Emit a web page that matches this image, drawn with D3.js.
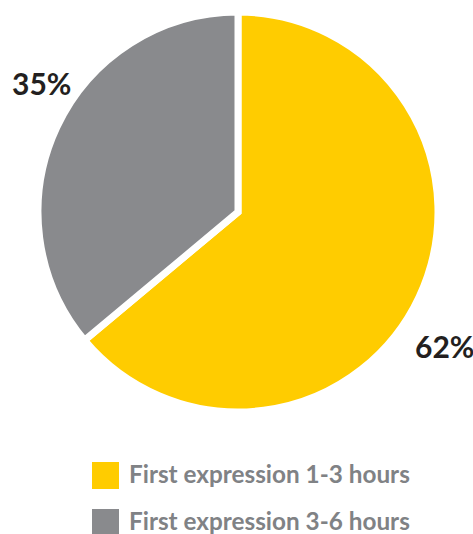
<!DOCTYPE html>
<html><head><meta charset="utf-8">
<script src="https://cdn.jsdelivr.net/npm/d3@7"></script>
<style>body{margin:0;background:#fff}svg{display:block}</style>
</head><body>
<svg id="c" width="473" height="534"></svg>
<script>
const categories = ["First expression 1-3 hours", "First expression 3-6 hours"];
const values = [62, 35];
const labels = ["62%", "35%"];
const colors = ["#FFCC00", "#898A8D"];

const svg = d3.select("#c");
const cx = 238, cy = 212, R = 200;
const pie = d3.pie().sort(null).value(d => d)(values);
const arc = d3.arc().innerRadius(0).outerRadius(R);
const g = svg.append("g").attr("transform", `translate(${cx},${cy})`);
g.selectAll("path").data(pie).join("path")
  .attr("d", arc)
  .attr("fill", (d, i) => colors[i])
  .attr("stroke", "#fff").attr("stroke-width", 7).attr("stroke-linejoin", "miter");

// percentage labels
const labelPos = [[415, 358], [12, 95]];
svg.selectAll("text.pct").data(labels).join("text")
  .attr("class", "pct")
  .attr("x", (d, i) => labelPos[i][0]).attr("y", (d, i) => labelPos[i][1])
  .attr("font-family", "Lato, sans-serif").attr("font-weight", 700)
  .attr("font-size", 30).attr("fill", "#231F20")
  .text(d => d);

// legend
const lg = svg.append("g");
const rows = lg.selectAll("g").data(categories).join("g")
  .attr("transform", (d, i) => `translate(92,${462 + i * 47})`);
rows.append("rect").attr("width", 27).attr("height", 27).attr("fill", (d, i) => colors[i]);
rows.append("text").attr("x", 37).attr("y", 21)
  .attr("font-family", "Lato, sans-serif").attr("font-weight", 700)
  .attr("font-size", 24.3).attr("fill", "#808285")
  .text(d => d);
</script>
</body></html>
